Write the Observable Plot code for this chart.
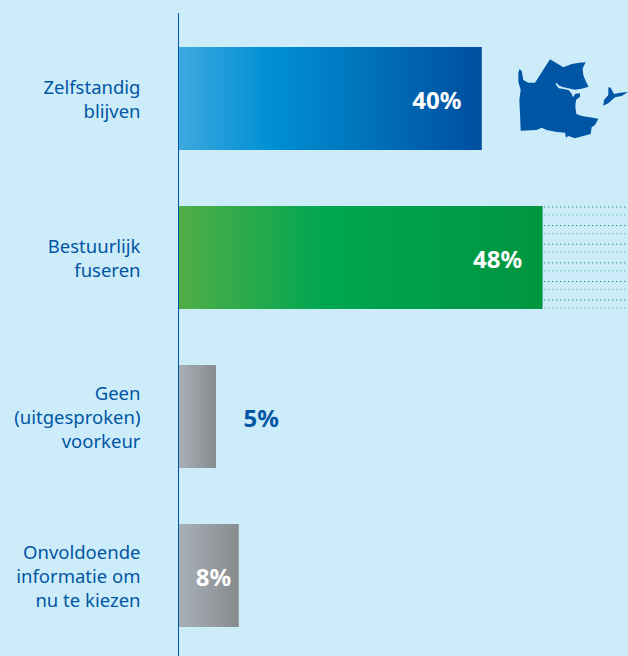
<!DOCTYPE html>
<html><head><meta charset="utf-8">
<script src="https://cdn.jsdelivr.net/npm/d3@7"></script>
<script src="https://cdn.jsdelivr.net/npm/@observablehq/plot@0.6"></script>
<style>
html,body{margin:0;padding:0;background:#cdecfa;overflow:hidden}
svg{display:block}
</style></head><body><div id="chart"></div>
<script>
const categories = ["Zelfstandig\nblijven","Bestuurlijk\nfuseren","Geen\n(uitgesproken)\nvoorkeur","Onvoldoende\ninformatie om\nnu te kiezen"];
const values = [40,48,5,8];
const gradients = ["gBlue","gGreen","gGray","gGray"];
const xMax = 59.25;
const mapMain = [[150,58],[170,70],[190,82],[215,72],[238,68],[257,67],[248,85],[250,105],[258,125],[266,140],[245,146],[225,149],[205,145],[188,141],[178,137],[170,129],[166,131],[176,145],[190,147],[205,150],[214,160],[219,172],[226,161],[240,160],[240,170],[228,180],[226,200],[229,222],[245,228],[270,232],[295,236],[285,255],[275,262],[272,282],[250,288],[225,295],[205,288],[198,293],[195,278],[170,276],[140,270],[125,263],[110,270],[62,272],[60,220],[58,180],[62,150],[55,125],[55,100],[58,88],[65,92],[70,120],[85,128],[105,128],[128,92]];
const mapIsland = [[325,142],[332,143],[342,162],[360,158],[384,156],[365,168],[345,172],[325,190],[310,197],[312,180],[325,165]];

const data = categories.map((c,i)=>({c,v:values[i],g:`url(#${gradients[i]})`}));
const ink = "#0056a4";
const font = "'Noto Sans', sans-serif";

function defs(){
  const d = d3.create("svg:defs");
  const grad=(id,stops)=>{
    const g=d.append("linearGradient").attr("id",id);
    stops.forEach(([o,c])=>g.append("stop").attr("offset",o).attr("stop-color",c));
  };
  grad("gBlue",[[0,"#3fa9e0"],[0.3,"#0090d4"],[1,"#004f9f"]]);
  grad("gGreen",[[0,"#52ae47"],[0.4,"#00a651"],[1,"#009640"]]);
  grad("gGray",[[0,"#a9b1b8"],[1,"#878b8e"]]);
  const p=d.append("pattern").attr("id","dots").attr("patternUnits","userSpaceOnUse")
    .attr("width",4).attr("height",18.62).attr("x",0).attr("y",206.5);
  p.append("rect").attr("width",1.4).attr("height",1).attr("fill","#1f9f5c").attr("y",0);
  p.append("rect").attr("width",1.4).attr("height",1).attr("fill","#1f9f5c").attr("opacity",0.65).attr("y",8);
  return d.node();
}
function outline(){
  const g=d3.create("svg:g").attr("transform","translate(500,40) scale(0.3333)").attr("fill",ink);
  const line=d3.line().curve(d3.curveLinearClosed);
  g.append("path").attr("d",line(mapMain));
  g.append("path").attr("d",line(mapIsland));
  return g.node();
}
const chart = Plot.plot({
  width:628,height:656,marginLeft:178,marginRight:0,marginTop:13,marginBottom:0,
  style:{background:"transparent",fontFamily:font},
  x:{domain:[0,xMax],axis:null},
  y:{domain:categories,range:[19,655],paddingInner:0.352,paddingOuter:0.176,axis:null},
  color:{type:"identity"},
  marks:[
    defs,
    Plot.barX(data.filter(d=>d.v===48),{x1:d=>d.v,x2:xMax,y:"c",fill:"url(#dots)"}),
    Plot.barX(data,{x:"v",y:"c",fill:"g"}),
    Plot.ruleX([0],{stroke:ink,strokeWidth:1}),
    Plot.axisY({domain:categories,anchor:"left",tickSize:0,tickPadding:38,dy:-1,fontSize:18.5,lineHeight:1.3,color:ink,fill:ink,stroke:"none",label:null,
      style:"letter-spacing:1px"}),
    Plot.text(data.filter(d=>d.v>=40),{x:"v",y:"c",dy:2,text:d=>d.v+"%",textAnchor:"end",dx:-21,fill:"white",fontSize:24,fontWeight:700}),
    Plot.text(data.filter(d=>d.v===8),{x:"v",y:"c",dy:2,text:d=>d.v+"%",textAnchor:"end",dx:-8,fill:"white",fontSize:24,fontWeight:700}),
    Plot.text(data.filter(d=>d.v===5),{x:"v",y:"c",dy:2,text:d=>d.v+"%",textAnchor:"start",dx:27,fill:ink,fontSize:24,fontWeight:700}),
    outline
  ]
});
document.getElementById("chart").append(chart);
</script></body></html>
